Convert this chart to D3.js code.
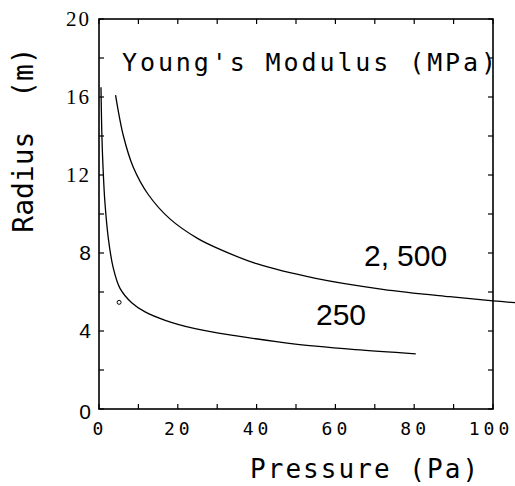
<!DOCTYPE html>
<html>
<head>
<meta charset="utf-8">
<script src="https://cdn.jsdelivr.net/npm/d3@7"></script>
<style>
  html, body { margin: 0; padding: 0; background: #fff; }
  svg { display: block; }
</style>
</head>
<body>
<svg id="chart" width="515" height="486"></svg>
<script>
// ---- data ----
const pressure250 = [0.5, 0.7, 1.0, 1.5, 2.4, 3.6, 5.3, 8.3, 11.7, 16.8, 24.4, 34.5, 45, 55, 65, 80.4];
const radius250   = [16.5, 14.3, 12.5, 10.6, 8.7, 7.25, 6.2, 5.45, 4.98, 4.55, 4.12, 3.76, 3.46, 3.22, 3.04, 2.83];
const pressure2500 = [4.2, 6.2, 8.7, 12.5, 18, 25, 30, 40, 55, 72, 89, 100, 105.6];
const radius2500   = [16.1, 14.0, 12.4, 11.0, 9.75, 8.75, 8.25, 7.45, 6.7, 6.14, 5.76, 5.55, 5.45];
const markerPoint = [5.1, 5.47];
const xTickValues = [0, 20, 40, 60, 80, 100];
const yTickValues = [0, 4, 8, 12, 16, 20];
const seriesLabels = ["250", "2,500"];
const titleText = "Young's Modulus (MPa)";
const xTitle = "Pressure (Pa)";
const yTitle = "Radius  (m)";

(function () {
const svg = d3.select("#chart");
const mL = 99, mR = 493, mT = 19, mB = 409;
const x = d3.scaleLinear().domain([0, 100]).range([mL, mR]);
const y = d3.scaleLinear().domain([0, 20]).range([mB, mT]);

// frame
svg.append("rect").attr("x", mL).attr("y", mT)
  .attr("width", mR - mL).attr("height", mB - mT)
  .attr("fill", "none").attr("stroke", "#000").attr("stroke-width", 1.6);

// ticks (inward)
const tl = 5;
const xMinor = d3.range(0, 101, 10);
const yMinor = d3.range(0, 21, 2);
svg.append("g").selectAll("line").data(xMinor).join("line")
  .attr("x1", d => x(d)).attr("x2", d => x(d))
  .attr("y1", mB).attr("y2", mB - tl)
  .attr("stroke", "#000").attr("stroke-width", 1.2);
svg.append("g").selectAll("line").data(xMinor).join("line")
  .attr("x1", d => x(d)).attr("x2", d => x(d))
  .attr("y1", mT).attr("y2", mT + tl)
  .attr("stroke", "#000").attr("stroke-width", 1.2);
svg.append("g").selectAll("line").data(yMinor).join("line")
  .attr("x1", mL).attr("x2", mL + tl)
  .attr("y1", d => y(d)).attr("y2", d => y(d))
  .attr("stroke", "#000").attr("stroke-width", 1.2);
svg.append("g").selectAll("line").data(yMinor).join("line")
  .attr("x1", mR).attr("x2", mR - tl)
  .attr("y1", d => y(d)).attr("y2", d => y(d))
  .attr("stroke", "#000").attr("stroke-width", 1.2);

// tick labels
svg.append("g").selectAll("text").data(xTickValues).join("text")
  .attr("x", d => x(d) + (d === 100 ? -2 : 1)).attr("y", 435)
  .attr("text-anchor", "middle")
  .attr("font-family", "DejaVu Sans Mono")
  .attr("font-size", 18).attr("letter-spacing", 4)
  .text(d => d);
svg.append("g").selectAll("text").data(yTickValues).join("text")
  .attr("x", 91).attr("y", d => y(d) + (d === 0 ? 3 : 0)).attr("dy", "0.35em")
  .attr("text-anchor", "end")
  .attr("font-family", d => d >= 12 ? "Liberation Serif" : "Liberation Sans")
  .attr("font-size", 21).attr("letter-spacing", d => d >= 12 ? 2 : 0)
  .text(d => d);

// curves
const line = d3.line().x(d => x(d[0])).y(d => y(d[1])).curve(d3.curveCatmullRom.alpha(0.5));
const s250 = pressure250.map((p, i) => [p, radius250[i]]);
const s2500 = pressure2500.map((p, i) => [p, radius2500[i]]);
svg.append("path").datum(s250).attr("d", line)
  .attr("fill", "none").attr("stroke", "#000").attr("stroke-width", 1.3);
svg.append("path").datum(s2500).attr("d", line)
  .attr("fill", "none").attr("stroke", "#000").attr("stroke-width", 1.3);

// small open marker
svg.append("circle").attr("cx", x(markerPoint[0])).attr("cy", y(markerPoint[1]))
  .attr("r", 2).attr("fill", "none").attr("stroke", "#000").attr("stroke-width", 1);

// series labels
svg.append("text").attr("x", 316).attr("y", 325)
  .attr("font-family", "Liberation Sans").attr("font-size", 30)
  .text(seriesLabels[0]);
const t2 = svg.append("text").attr("x", 364).attr("y", 266)
  .attr("font-family", "Liberation Sans").attr("font-size", 30);
const parts = seriesLabels[1].split(",");
t2.append("tspan").text(parts[0] + ",");
t2.append("tspan").attr("dx", 8).text(parts[1]);

// title
svg.append("text").attr("x", 122).attr("y", 71)
  .attr("font-family", "DejaVu Sans Mono").attr("font-size", 25)
  .attr("letter-spacing", 2.9)
  .text(titleText);

// axis titles
svg.append("text").attr("x", 250).attr("y", 478)
  .attr("font-family", "DejaVu Sans Mono").attr("font-size", 26)
  .attr("letter-spacing", 2.05)
  .text(xTitle);
svg.append("text")
  .attr("transform", "translate(33,140) rotate(-90)")
  .attr("text-anchor", "middle")
  .attr("font-family", "DejaVu Sans Mono").attr("font-size", 28)
  .style("white-space", "pre")
  .text(yTitle);
})();
</script>
</body>
</html>
